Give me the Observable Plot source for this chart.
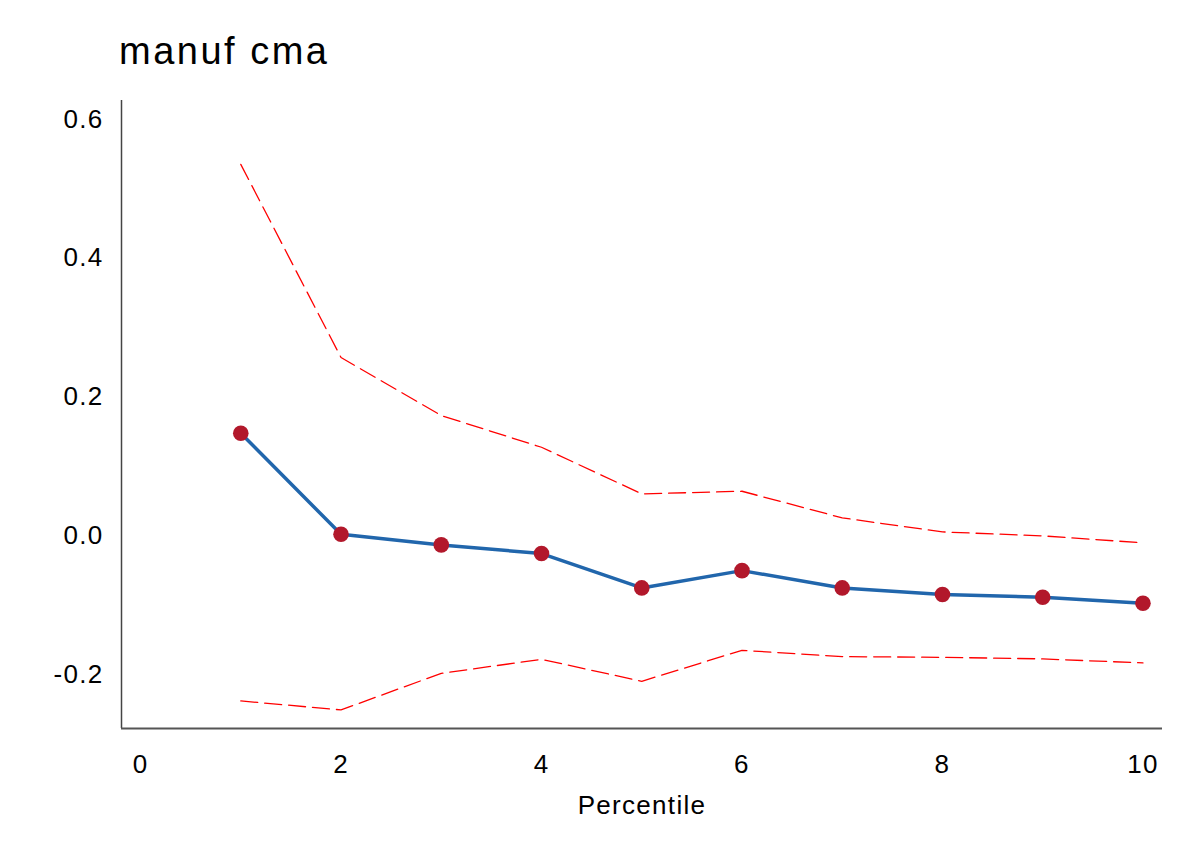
<!DOCTYPE html>
<html>
<head>
<meta charset="utf-8">
<script src="https://cdn.jsdelivr.net/npm/d3@7"></script>
<script src="https://cdn.jsdelivr.net/npm/@observablehq/plot@0.6"></script>
<style>
  html, body { margin: 0; padding: 0; background: #fff; }
  #title { font-family: "Liberation Sans", Arial, sans-serif; font-size: 38px; letter-spacing: 2.5px;
           line-height: 44px; height: 44px; padding-top: 29px; padding-left: 119px; color: #000; }
  #chart svg { display: block; }
</style>
</head>
<body>
<div id="title">manuf cma</div>
<div id="chart"></div>
<script>
const percentile = [1, 2, 3, 4, 5, 6, 7, 8, 9, 10];
const estimate = [0.1475, 0.0019, -0.0134, -0.0259, -0.0754, -0.0505, -0.0754, -0.0850, -0.0889, -0.0976];
const upper = [0.535, 0.2566, 0.173, 0.1273, 0.0601, 0.0639, 0.0255, 0.0053, -0.0004, -0.0105];
const lower = [-0.2383, -0.2512, -0.1985, -0.1783, -0.2100, -0.1653, -0.1744, -0.1754, -0.1777, -0.1835];
const xTicks = [0, 2, 4, 6, 8, 10];
const yTicks = [-0.2, 0.0, 0.2, 0.4, 0.6];

const rows = percentile.map((p, i) => ({p, est: estimate[i], up: upper[i], lo: lower[i]}));

const plot = Plot.plot({
  width: 1193,
  height: 795,
  marginTop: 27,
  marginBottom: 140,
  marginLeft: 121,
  marginRight: 31,
  style: {fontFamily: "'Liberation Sans', Arial, sans-serif", fontSize: "26px", letterSpacing: "1.3px", color: "#000", background: "#fff"},
  x: {domain: [-0.19, 10.195]},
  y: {domain: [-0.278, 0.627]},
  marks: [
    Plot.axisY({ticks: yTicks, tickSize: 0, tickPadding: 18, tickFormat: d => d.toFixed(1), label: null, fontSize: 26}),
    Plot.axisX({ticks: xTicks, tickSize: 0, tickPadding: 26, tickFormat: d => String(d), label: null, fontSize: 26}),
    Plot.text(["Percentile"], {frameAnchor: "bottom", dy: 85, lineAnchor: "bottom", fontSize: 26, fill: "#000"}),
    Plot.ruleX([-0.19], {stroke: "#444", strokeWidth: 1.5}),
    Plot.ruleY([-0.278], {stroke: "#555", strokeWidth: 2}),
    Plot.line(rows, {x: "p", y: "up", stroke: "#ff0000", strokeWidth: 1.3, strokeDasharray: "17,7"}),
    Plot.line(rows, {x: "p", y: "lo", stroke: "#ff0000", strokeWidth: 1.3, strokeDasharray: "17,7"}),
    Plot.line(rows, {x: "p", y: "est", stroke: "#2166ac", strokeWidth: 3.5}),
    Plot.dot(rows, {x: "p", y: "est", r: 7.8, fill: "#b2182b", stroke: "none"})
  ]
});
document.getElementById("chart").appendChild(plot);
</script>
</body>
</html>
